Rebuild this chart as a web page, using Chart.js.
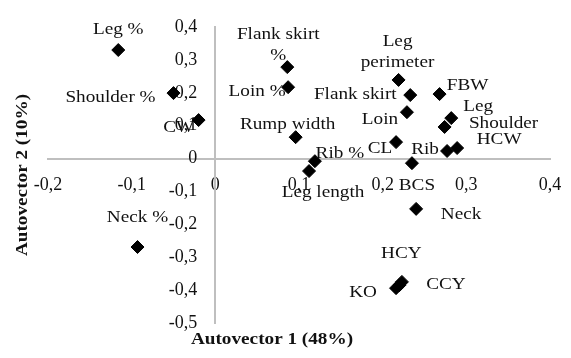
<!DOCTYPE html>
<html>
<head>
<meta charset="utf-8">
<script src="https://cdn.jsdelivr.net/npm/chart.js@4/dist/chart.umd.min.js"></script>
<style>
  body { margin: 0; background: #fff; }
  #wrap { width: 571px; height: 358px; }
</style>
</head>
<body>
<div id="wrap"><canvas id="pca" width="571" height="358"></canvas></div>
<script>
// variables on the two autovectors
const names = ["Leg %", "Shoulder %", "CW", "Flank skirt %", "Loin %", "Rump width", "Rib %", "Leg length",
  "Leg perimeter", "Flank skirt", "Loin", "CL", "BCS", "FBW", "Leg", "Shoulder", "Rib", "HCW",
  "Neck", "Neck %", "HCY", "KO", "CCY"];
const autovector1 = [-0.116, -0.050, -0.020, 0.086, 0.087, 0.096, 0.119, 0.112,
  0.219, 0.233, 0.229, 0.216, 0.235, 0.268, 0.282, 0.274, 0.277, 0.289,
  0.240, -0.093, 0.220, 0.216, 0.223];
const autovector2 = [0.330, 0.199, 0.117, 0.278, 0.217, 0.065, -0.008, -0.038,
  0.239, 0.193, 0.141, 0.050, -0.014, 0.196, 0.123, 0.096, 0.023, 0.032,
  -0.153, -0.269, -0.385, -0.394, -0.375];
const xTicks = [-0.2, -0.1, 0, 0.1, 0.2, 0.3, 0.4];
const yTicks = [-0.5, -0.4, -0.3, -0.2, -0.1, 0, 0.1, 0.2, 0.3, 0.4];

// where each name is written, relative to its diamond (px)
const labelPlace = {
  "Leg %": [0, -20], "Shoulder %": [-63, 4], "CW": [-20, 7],
  "Flank skirt %": [-9, -33, ["Flank skirt", "%"]], "Loin %": [-31, 4], "Rump width": [-8, -13],
  "Rib %": [25, -8], "Leg length": [14, 21], "Leg perimeter": [-1, -38, ["Leg", "perimeter"]],
  "Flank skirt": [-55, -1], "Loin": [-27, 7], "CL": [-16, 6], "BCS": [5, 22], "FBW": [28, -9],
  "Leg": [27, -12], "Shoulder": [59, -3], "Rib": [-22, -1], "HCW": [42, -8], "Neck": [45, 6],
  "Neck %": [0, -29], "HCY": [2, -32], "KO": [-33, 4], "CCY": [44, 3]
};

const FONT = "Liberation Serif, Times New Roman, serif";
const fmt = v => Math.abs(v) < 1e-9 ? "0" : v.toFixed(1).replace(".", ",");

// the source text is a little wider than plain Times
function wideText(ctx, t, x, y, rot) {
  ctx.save();
  ctx.translate(x, y);
  if (rot) ctx.rotate(rot);
  ctx.scale(1.13, 1);
  ctx.fillText(t, 0, 0);
  ctx.restore();
}

const pointLabels = {
  id: "pointLabels",
  afterDatasetsDraw(chart) {
    const ctx = chart.ctx;
    const meta = chart.getDatasetMeta(0);
    ctx.save();
    ctx.font = "17px " + FONT;
    ctx.fillStyle = "#111";
    ctx.textAlign = "center";
    ctx.textBaseline = "middle";
    meta.data.forEach((pt, i) => {
      const p = labelPlace[names[i]];
      const lines = p[2] || [names[i]];
      lines.forEach((t, k) => wideText(ctx, t, pt.x + p[0], pt.y + p[1] + k * 21));
    });
    // axis titles
    ctx.font = "bold 17px " + FONT;
    wideText(ctx, "Autovector 1 (48%)", 272, 340);
    wideText(ctx, "Autovector 2 (10%)", 23, 175, -Math.PI / 2);
    ctx.restore();
  }
};

new Chart(document.getElementById("pca"), {
  type: "scatter",
  data: {
    datasets: [{
      data: autovector1.map((x, i) => ({ x: x, y: autovector2[i] })),
      pointStyle: "rectRot",
      pointRadius: 6.5,
      pointBackgroundColor: "#000",
      pointBorderColor: "#000",
      pointBorderWidth: 1
    }]
  },
  options: {
    responsive: false,
    animation: false,
    devicePixelRatio: 1,
    layout: { padding: { left: 48, right: 21, top: 27, bottom: 35 } },
    plugins: { legend: { display: false }, tooltip: { enabled: false } },
    scales: {
      x: {
        type: "linear", min: -0.2, max: 0.4,
        position: { y: 0 },
        afterBuildTicks: s => { s.ticks = xTicks.map(v => ({ value: v })); },
        grid: { display: false },
        border: { display: true, color: "#bfbfbf", width: 2 },
        ticks: { padding: 8, color: "#111", font: { family: FONT, size: 18 }, callback: fmt, maxRotation: 0 }
      },
      y: {
        type: "linear", min: -0.5, max: 0.4,
        position: { x: 0 },
        afterBuildTicks: s => { s.ticks = yTicks.map(v => ({ value: v })); },
        grid: { display: false },
        border: { display: true, color: "#bfbfbf", width: 2 },
        // a centred y axis ignores tick padding, so keep the gap with figure spaces
        ticks: { padding: 0, color: "#111", font: { family: FONT, size: 18 }, callback: v => fmt(v) + "\u2007\u2007" }
      }
    }
  },
  plugins: [pointLabels]
});
</script>
</body>
</html>
